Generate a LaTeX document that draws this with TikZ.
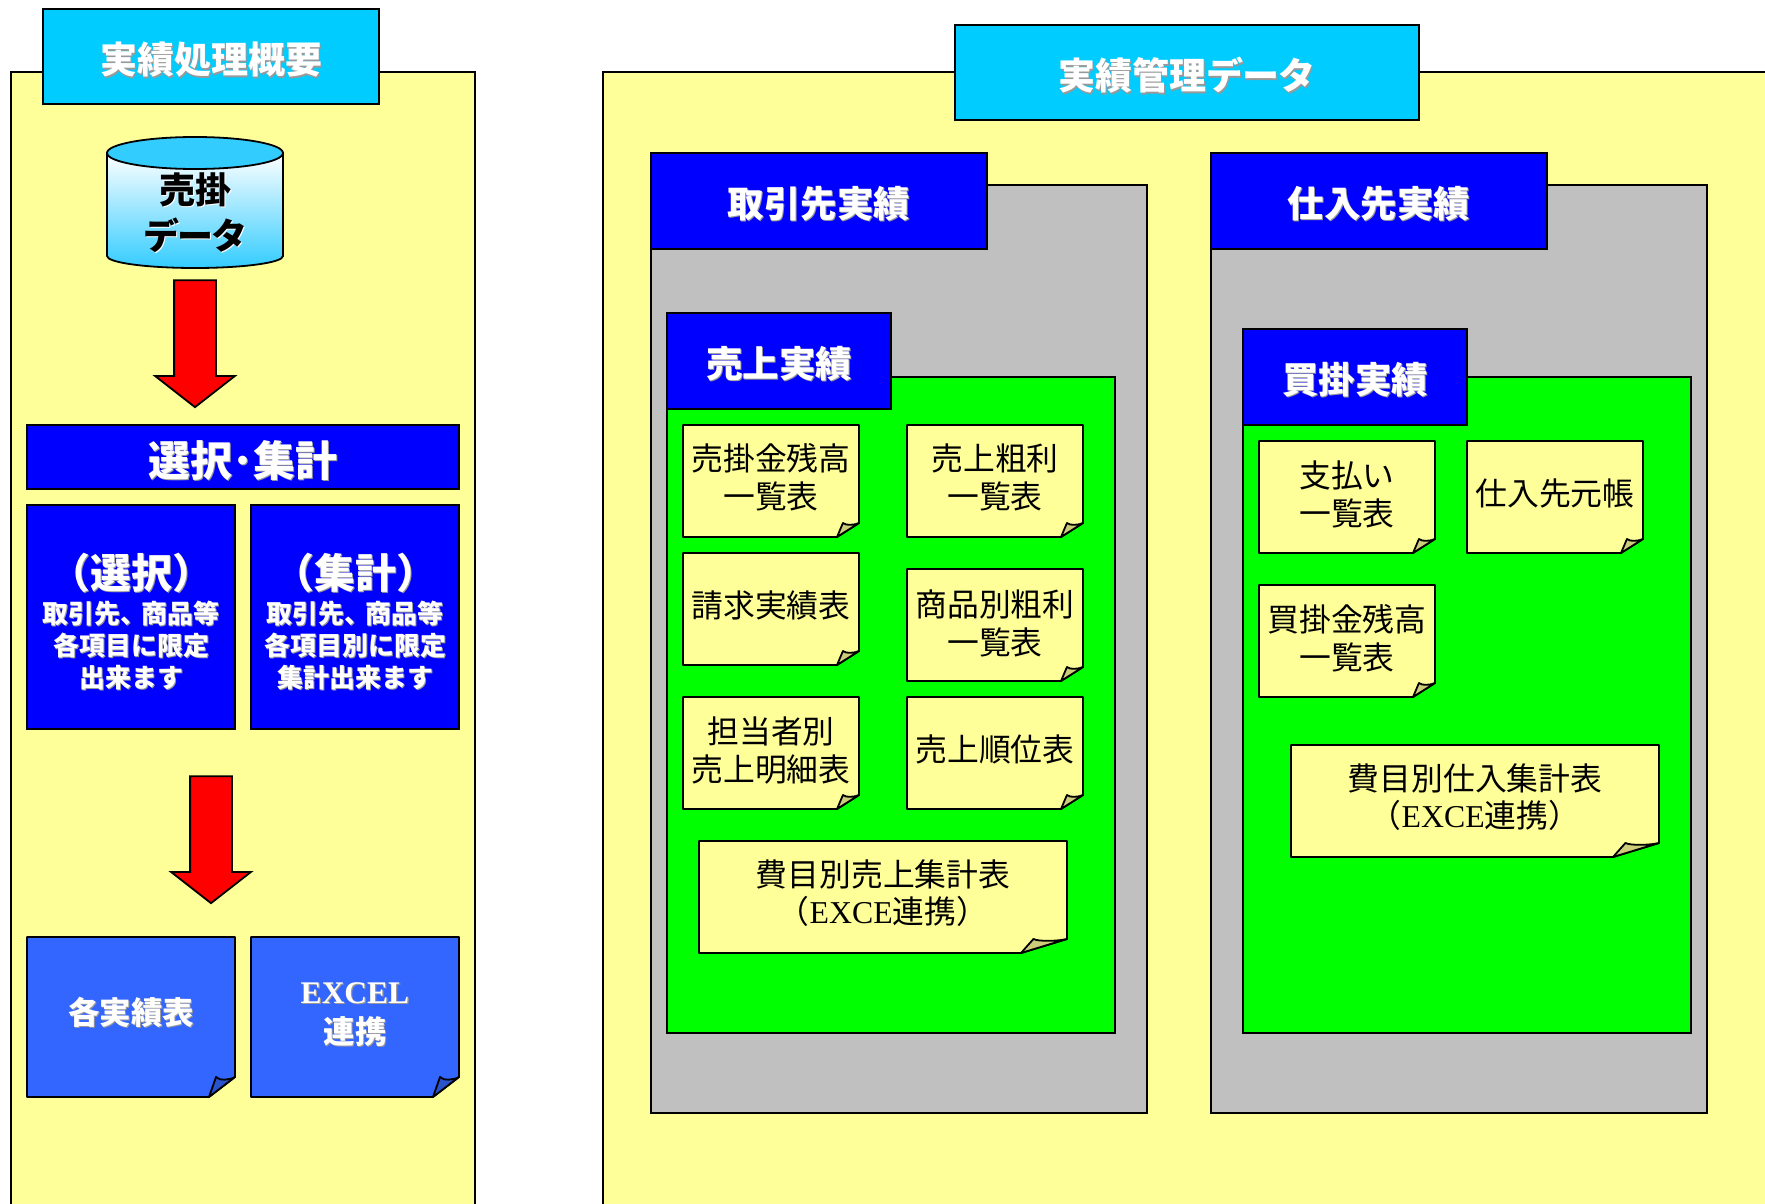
\documentclass[tikz,border=0pt]{standalone}
\usepackage{fontspec}
\setmainfont{Liberation Serif}
\newfontfamily\jpfont{Noto Sans CJK JP}
\usetikzlibrary{shapes.arrows}

\definecolor{paper}{HTML}{FFFF99}
\definecolor{paperfold}{HTML}{CCCC7A}
\definecolor{skyhead}{HTML}{00CCFF}
\definecolor{skydrum}{HTML}{33CCFF}
\definecolor{deepblue}{HTML}{0000FF}
\definecolor{softblue}{HTML}{3366FF}
\definecolor{softfold}{HTML}{2952CC}
\definecolor{greypanel}{HTML}{C0C0C0}
\definecolor{greenpanel}{HTML}{00FF00}

\tikzset{
    box/.style={draw=black,line width=1.8pt,rectangle,inner sep=0pt,outer sep=0pt,align=center},
    panel/.style={box,fill=paper},
    skytitle/.style={box,fill=skyhead,text=white,text height=35pt,text depth=0pt,font={\jpfont\bfseries\fontsize{37}{40}\selectfont}},
    bluetitle/.style={box,fill=deepblue,text=white,text height=33pt,text depth=0pt,font={\jpfont\bfseries\fontsize{36.5}{40}\selectfont}},
    bluebox/.style={box,fill=deepblue,text=white},
    redarrow/.style={draw=black,line width=1.8pt,fill=red,single arrow,rotate=270,
        inner sep=0pt,outer sep=0pt,minimum width=78pt,minimum height=127pt,
        single arrow head extend=19pt,single arrow tip angle=104},
    notetext/.style={align=center,inner sep=0pt,yshift=0.7pt,font={\jpfont\fontsize{31.8}{37.5}\selectfont}},
    bluenotetext/.style={align=center,inner sep=0pt,text=white,font={\jpfont\bfseries\fontsize{31.5}{40.5}\selectfont}},
}

% text with a soft shadow behind it
\newcommand{\shtxt}[2][black!40]{\leavevmode\rlap{\hspace{1.2pt}\raisebox{-1.2pt}{\textcolor{#1}{#2}}}#2}

% fill, fold fill, left, top, right, bottom, fold width, fold height
\newcommand{\notebody}[8]{
    \draw[line width=1.8pt,line join=round,fill=#1](#3,#4)--(#5,#4)--(#5,#6-#8)--(#5-#7,#6)--(#3,#6)--cycle;
    \draw[line width=1.8pt,line join=round,fill=#2](#5-#7,#6)--(#5-0.73*#7,#6-#8)
        ..controls(#5-0.6*#7,#6-0.8*#8)and(#5-0.2*#7,#6-0.85*#8)..(#5,#6-#8)--cycle;
}

\begin{document}
\begin{tikzpicture}[x=1pt,y=-1pt]
    \useasboundingbox(0,0)rectangle(1765,1204);
    \clip(0,0)rectangle(1765,1204);
    \begin{scope}[yshift=-1pt]

    % left panel
    \node[panel,minimum width=464pt,minimum height=1200pt](leftpanel)at(243,671){};
    \node[skytitle,minimum width=336pt,minimum height=95pt](lefttitle)at(211,55.5){\shtxt{実績処理概要}};

    \draw[line width=1.8pt,top color=white,bottom color=skydrum](107,152)--(107,255)
        arc[start angle=180,end angle=0,x radius=88,y radius=12]--(283,152)--cycle;
    \draw[line width=1.8pt,fill=skydrum](195,152)ellipse[x radius=88,y radius=16];
    \node[align=center,inner sep=0pt,font={\jpfont\bfseries\fontsize{36}{46}\selectfont}](uridata)at(195,212){\shtxt[white]{売掛}\\\shtxt[white]{デ\kern-2pt ー\kern-2pt タ}};

    \node[redarrow](arrowone)at(195,334.5){\rule{0pt}{40pt}};
    \node[bluebox,minimum width=432pt,minimum height=64pt,text height=38pt,text depth=0pt,font={\jpfont\bfseries\fontsize{42}{44}\selectfont}](selband)at(243,456){\shtxt{選択･集計}};

    \node[bluebox,minimum width=208pt,minimum height=224pt,font={\jpfont\bfseries\fontsize{26}{32}\selectfont}](selbox)at(131,616)
        {{\fontsize{41}{41}\selectfont\rule{0pt}{46pt}\shtxt{（選択）}}\\[3pt]\shtxt{取引先、\kern-5pt 商品等}\\\shtxt{各項目に限定}\\\shtxt{出来ます}};
    \node[bluebox,minimum width=208pt,minimum height=224pt,font={\jpfont\bfseries\fontsize{26}{32}\selectfont}](sumbox)at(355,616)
        {{\fontsize{41}{41}\selectfont\rule{0pt}{46pt}\shtxt{（集計）}}\\[3pt]\shtxt{取引先、\kern-5pt 商品等}\\\shtxt{各項目別に限定}\\\shtxt{集計出来ます}};

    \node[redarrow](arrowtwo)at(211,830.5){\rule{0pt}{40pt}};

    \notebody{softblue}{softfold}{27}{936}{235}{1096}{26}{20}
    \node[bluenotetext](eachtable)at(131,1012){\shtxt{各実績表}};
    \notebody{softblue}{softfold}{251}{936}{459}{1096}{26}{20}
    \node[bluenotetext](excellink)at(355,1014){\shtxt{\rmfamily\bfseries EXCEL}\\\shtxt{連携}};

    % right panel
    \node[panel,minimum width=1200pt,minimum height=1200pt](rightpanel)at(1203,671){};
    \node[skytitle,minimum width=464pt,minimum height=95pt](righttitle)at(1187,71.5){\shtxt{実績管理デ\kern-1pt ー\kern-1pt タ}};

    % customers
    \node[box,fill=greypanel,minimum width=496pt,minimum height=928pt](custpanel)at(899,648){};
    \node[bluetitle,minimum width=336pt,minimum height=96pt](custtitle)at(819,200){\shtxt{取引先実績}};
    \node[box,fill=greenpanel,minimum width=448pt,minimum height=656pt](salepanel)at(891,704){};
    \node[bluetitle,minimum width=224pt,minimum height=96pt](saletitle)at(779,360){\shtxt{売上実績}};

    \notebody{paper}{paperfold}{683}{424}{859}{536}{22}{14}
    \node[notetext](urizan)at(771,477){売掛金残高\\一覧表};
    \notebody{paper}{paperfold}{907}{424}{1083}{536}{22}{14}
    \node[notetext](uriarari)at(995,477){売上粗利\\一覧表};
    \notebody{paper}{paperfold}{683}{552}{859}{664}{22}{14}
    \node[notetext](seikyu)at(771,605){請求実績表};
    \notebody{paper}{paperfold}{907}{568}{1083}{680}{22}{14}
    \node[notetext](shohin)at(995,623){商品別粗利\\一覧表};
    \notebody{paper}{paperfold}{683}{696}{859}{808}{22}{14}
    \node[notetext](tanto)at(771,750){担当者別\\売上明細表};
    \notebody{paper}{paperfold}{907}{696}{1083}{808}{22}{14}
    \node[notetext](junni)at(995,749){売上順位表};
    \notebody{paper}{paperfold}{699}{840}{1067}{952}{46}{14}
    \node[notetext](himokuuri)at(883,893){費目別売上集計表\\（{\rmfamily EXCE}連携）};

    % suppliers
    \node[box,fill=greypanel,minimum width=496pt,minimum height=928pt](supppanel)at(1459,648){};
    \node[bluetitle,minimum width=336pt,minimum height=96pt](supptitle)at(1379,200){\shtxt{仕入先実績}};
    \node[box,fill=greenpanel,minimum width=448pt,minimum height=656pt](buypanel)at(1467,704){};
    \node[bluetitle,minimum width=224pt,minimum height=96pt](buytitle)at(1355,376){\shtxt{買掛実績}};

    \notebody{paper}{paperfold}{1259}{440}{1435}{552}{22}{14}
    \node[notetext](shiharai)at(1347,494){支払い\\一覧表};
    \notebody{paper}{paperfold}{1467}{440}{1643}{552}{22}{14}
    \node[notetext](motocho)at(1555,493){仕入先元帳};
    \notebody{paper}{paperfold}{1259}{584}{1435}{696}{22}{14}
    \node[notetext](kaizan)at(1347,638){買掛金残高\\一覧表};
    \notebody{paper}{paperfold}{1291}{744}{1659}{856}{46}{14}
    \node[notetext](himokushi)at(1475,797){費目別仕入集計表\\（{\rmfamily EXCE}連携）};
    \end{scope}
\end{tikzpicture}
\end{document}
